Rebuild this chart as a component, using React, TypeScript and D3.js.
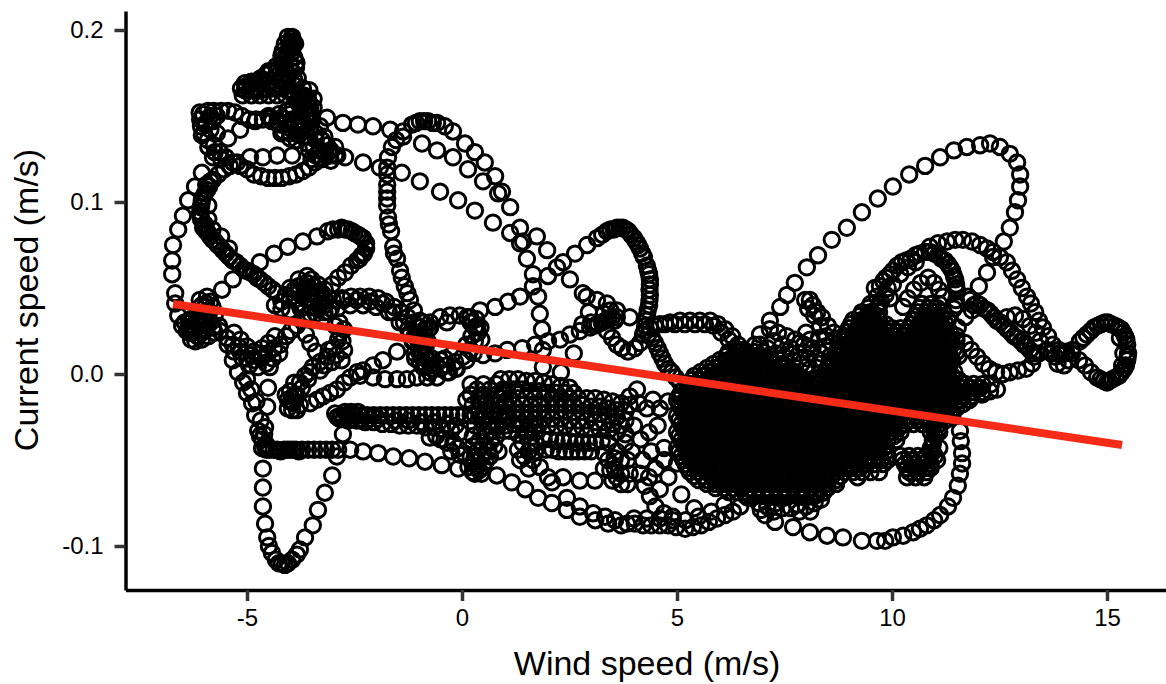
import React, { useEffect, useRef } from "react";
import * as d3 from "d3";

type Pt = [number, number];

// Tick values
const xTicks = [-5, 0, 5, 10, 15];
const yTicks = [-0.1, 0, 0.1, 0.2];

// Fitted line, ends
const fitLine: Pt[] = [[-6.72, 0.0407], [15.35, -0.0413]];

// [wind, current], track by track
const topTriangle: Pt[] = [
  [-3.95, 0.195], [-3.98, 0.193], [-4.0, 0.191], [-4.03, 0.189], [-4.06, 0.187], [-4.1, 0.185], [-3.92, 0.193], [-3.95, 0.19],
  [-4.05, 0.196], [-3.95, 0.196], [-3.88, 0.192], [-4.12, 0.192], [-3.95, 0.187], [-4.17, 0.188], [-4.2, 0.185], [-4.12, 0.183],
  [-4.2, 0.182], [-4.32, 0.179], [-4.44, 0.176], [-4.56, 0.174], [-4.68, 0.172], [-4.8, 0.17], [-4.92, 0.168], [-5.04, 0.167], [-5.14, 0.166],
  [-5.05, 0.165], [-4.92, 0.165], [-4.8, 0.165], [-4.68, 0.165], [-4.55, 0.166], [-4.42, 0.166], [-4.3, 0.166], [-4.18, 0.166], [-4.05, 0.165], [-3.92, 0.164], [-3.8, 0.163], [-3.68, 0.162], [-3.58, 0.16],
  [-3.9, 0.184], [-3.86, 0.178], [-3.82, 0.172], [-3.9, 0.171], [-4.05, 0.172], [-4.2, 0.172], [-4.35, 0.173], [-3.7, 0.158], [-3.55, 0.155], [-3.62, 0.15], [-3.72, 0.146], [-3.85, 0.142], [-4.0, 0.14], [-4.15, 0.141],
  [-5.05, 0.169], [-4.9, 0.17], [-4.7, 0.169], [-4.5, 0.169], [-4.3, 0.169], [-4.1, 0.169], [-3.9, 0.168], [-3.7, 0.166],
  [-5.1, 0.162], [-4.9, 0.162], [-4.7, 0.162], [-4.5, 0.162], [-4.3, 0.162], [-4.1, 0.162], [-3.9, 0.161], [-3.7, 0.16],
  [-4.5, 0.176], [-4.3, 0.176], [-4.1, 0.177], [-3.95, 0.176], [-4.2, 0.18], [-4.0, 0.18], [-3.85, 0.181],
  [-3.55, 0.165], [-3.45, 0.16], [-3.45, 0.155], [-3.5, 0.15], [-3.55, 0.146], [-3.65, 0.155], [-3.75, 0.152],
];
const upperLeftLoop: Pt[] = [
  [-3.3, 0.126], [-3.42, 0.123], [-3.56, 0.12], [-3.7, 0.118], [-3.86, 0.116], [-4.02, 0.115], [-4.19, 0.114], [-4.35, 0.114], [-4.51, 0.114], [-4.67, 0.115], [-4.84, 0.116], [-5.0, 0.119], [-5.16, 0.121], [-5.33, 0.123], [-5.49, 0.126], [-5.63, 0.129], [-5.77, 0.133], [-5.91, 0.136], [-6.0, 0.14], [-6.07, 0.144], [-6.09, 0.148], [-6.02, 0.151], [-5.91, 0.153], [-5.77, 0.153], [-5.6, 0.153], [-5.44, 0.153], [-5.28, 0.152], [-5.12, 0.15], [-4.95, 0.148], [-4.79, 0.148], [-4.63, 0.148], [-4.44, 0.149], [-4.26, 0.151], [-4.07, 0.153], [-3.93, 0.155], [-3.77, 0.156],
  [-3.58, 0.159], [-3.53, 0.155], [-3.6, 0.151], [-3.7, 0.147], [-3.53, 0.143], [-3.4, 0.14], [-3.26, 0.136], [-3.14, 0.133], [-3.05, 0.13], [-2.95, 0.127], [-3.07, 0.127], [-3.19, 0.129], [-3.77, 0.142], [-4.0, 0.143], [-4.23, 0.145], [-4.42, 0.147], [-4.19, 0.149], [-3.95, 0.148], [-3.6, 0.138], [-3.45, 0.132], [-3.3, 0.13], [-3.55, 0.13], [-3.85, 0.136], [-5.85, 0.142], [-5.7, 0.14], [-5.95, 0.146], [-5.8, 0.147],
  [-4.5, 0.15], [-4.3, 0.146], [-4.1, 0.146], [-3.9, 0.145], [-3.7, 0.143], [-3.5, 0.147], [-3.3, 0.144], [-4.2, 0.14], [-4.0, 0.137], [-3.8, 0.139], [-3.6, 0.134], [-3.4, 0.136], [-3.2, 0.138], [-3.1, 0.129], [-2.95, 0.132], [-3.25, 0.125], [-3.4, 0.127], [-3.05, 0.124], [-2.9, 0.127], [-3.5, 0.125],
  [-6.05, 0.139], [-5.98, 0.145], [-5.85, 0.15], [-5.7, 0.15], [-6.1, 0.152], [-5.9, 0.132], [-5.75, 0.129], [-5.6, 0.125],
];
const outerArc: Pt[] = [
  [-6.67, 0.047], [-6.74, 0.058], [-6.74, 0.066], [-6.72, 0.075], [-6.6, 0.084], [-6.49, 0.092], [-6.37, 0.101], [-6.21, 0.109], [-6.05, 0.117], [-5.79, 0.126], [-5.44, 0.137], [-5.16, 0.142], [-4.81, 0.147], [-4.47, 0.149], [-4.0, 0.151], [-3.53, 0.151], [-3.14, 0.149], [-2.77, 0.146], [-2.42, 0.145], [-2.07, 0.144], [-1.67, 0.142], [-1.37, 0.138], [-0.93, 0.134], [-0.58, 0.13], [-0.21, 0.126], [0.14, 0.119], [0.49, 0.112], [0.84, 0.105], [1.12, 0.097], [1.35, 0.085], [1.42, 0.077], [1.51, 0.067], [1.65, 0.058], [1.77, 0.045], [1.81, 0.035], [1.86, 0.026], [1.88, 0.014], [1.88, 0.004],
];
const secondArc: Pt[] = [
  [-3.95, 0.127], [-4.3, 0.127], [-4.63, 0.126], [-4.93, 0.126], [-2.72, 0.126], [-2.3, 0.123], [-1.91, 0.12], [-1.4, 0.117], [-0.98, 0.112], [-0.51, 0.106], [-0.09, 0.101], [0.3, 0.095], [0.72, 0.088], [1.12, 0.082], [1.35, 0.076], [1.74, 0.08], [1.98, 0.072], [2.21, 0.062], [2.51, 0.055], [2.81, 0.047], [3.14, 0.043], [3.37, 0.041], [3.6, 0.037], [3.9, 0.033],
];
const centreArch: Pt[] = [
  [0.93, 0.106], [0.77, 0.115], [0.53, 0.123], [0.3, 0.129], [0.07, 0.134], [-0.21, 0.141], [-0.4, 0.144], [-0.58, 0.146], [-0.79, 0.147], [-0.98, 0.147], [-1.16, 0.145], [-1.37, 0.141], [-1.53, 0.136], [-1.63, 0.132], [-1.72, 0.126], [-1.74, 0.12], [-1.74, 0.116], [-1.74, 0.106], [-1.74, 0.098], [-1.72, 0.091], [-1.65, 0.083], [-1.6, 0.074], [-1.51, 0.067], [-1.44, 0.06], [-1.33, 0.051], [-1.21, 0.043], [-1.12, 0.037], [-0.98, 0.031],
  [-0.68, 0.146], [-0.88, 0.147], [-1.07, 0.146], [-1.74, 0.11], [-1.74, 0.102], [-1.7, 0.087], [-1.58, 0.07], [-1.4, 0.056], [-1.27, 0.047],
];
const thickDiagonal: Pt[] = [
  [-5.23, 0.123], [-5.4, 0.121], [-5.53, 0.119], [-5.67, 0.116], [-5.79, 0.113], [-5.88, 0.109], [-5.98, 0.105], [-6.05, 0.101], [-6.07, 0.097], [-6.09, 0.094], [-6.07, 0.09], [-6.02, 0.085], [-5.95, 0.083], [-5.86, 0.08], [-5.74, 0.077], [-5.63, 0.074], [-5.49, 0.07], [-5.33, 0.066], [-5.16, 0.063], [-5.0, 0.06], [-4.84, 0.058], [-4.7, 0.055], [-4.51, 0.051], [-4.3, 0.047],
  [-5.95, 0.11], [-5.9, 0.098], [-5.9, 0.09], [-5.8, 0.084], [-5.6, 0.08], [-5.42, 0.073],
  [-5.85, 0.112], [-5.93, 0.107], [-6.02, 0.103], [-6.06, 0.099], [-6.08, 0.092], [-5.98, 0.087], [-5.9, 0.082], [-5.8, 0.078], [-5.68, 0.075], [-5.56, 0.072], [-5.41, 0.068], [-5.25, 0.065], [-5.08, 0.061], [-4.92, 0.059], [-4.77, 0.056], [-4.6, 0.053], [-4.4, 0.049],
];
const midHook: Pt[] = [
  [-5.58, 0.049], [-5.33, 0.055], [-5.02, 0.06], [-4.7, 0.065], [-4.37, 0.07], [-4.05, 0.074], [-3.7, 0.077], [-3.37, 0.08], [-3.12, 0.083], [-2.88, 0.084], [-2.72, 0.084], [-2.56, 0.083], [-2.42, 0.081], [-2.3, 0.079], [-2.23, 0.076], [-2.23, 0.073], [-2.33, 0.069], [-2.44, 0.066], [-2.58, 0.063], [-2.72, 0.059], [-2.88, 0.056], [-3.02, 0.052], [-3.19, 0.049], [-3.35, 0.046],
  [-3.0, 0.084], [-2.8, 0.085], [-2.65, 0.084], [-2.5, 0.082], [-2.36, 0.08], [-2.28, 0.07], [-2.38, 0.067],
  [-4.1, 0.046], [-3.9, 0.049], [-3.7, 0.052], [-3.5, 0.055], [-3.35, 0.052], [-3.5, 0.047], [-3.7, 0.045], [-3.9, 0.043], [-3.6, 0.057], [-3.8, 0.055], [-3.2, 0.044], [-3.05, 0.038], [-3.3, 0.04], [-3.5, 0.039], [-3.75, 0.038], [-4.0, 0.037], [-4.2, 0.038],
  [-4.0, 0.05], [-3.8, 0.051], [-3.6, 0.053], [-3.45, 0.051], [-3.6, 0.049], [-3.8, 0.047], [-4.0, 0.044], [-3.6, 0.043], [-3.4, 0.045], [-3.25, 0.047], [-3.8, 0.041], [-4.2, 0.042], [-4.35, 0.04], [-3.4, 0.035], [-3.6, 0.034], [-3.2, 0.036],
];
const leftKnot: Pt[] = [
  [-5.93, 0.045], [-5.98, 0.039], [-6.02, 0.034], [-6.09, 0.03], [-6.21, 0.026], [-6.33, 0.024], [-6.35, 0.027], [-6.25, 0.024], [-6.15, 0.022], [-6.05, 0.024], [-5.95, 0.026], [-6.1, 0.028], [-6.2, 0.03], [-6.35, 0.031], [-6.45, 0.03], [-6.67, 0.041], [-6.6, 0.034], [-6.51, 0.028], [-5.85, 0.042], [-5.88, 0.036], [-6.05, 0.04],
  [-6.1, 0.043], [-5.95, 0.041], [-5.8, 0.039], [-5.75, 0.034], [-5.85, 0.03], [-5.95, 0.032], [-6.15, 0.036], [-6.3, 0.02], [-6.2, 0.019], [-6.05, 0.02], [-5.9, 0.022], [-5.75, 0.024], [-6.4, 0.025], [-6.3, 0.032], [-5.65, 0.028],
  [-5.79, 0.027], [-5.63, 0.025], [-5.47, 0.021], [-5.33, 0.017], [-5.16, 0.013], [-5.0, 0.009], [-4.84, 0.008], [-4.67, 0.009], [-4.51, 0.012], [-4.37, 0.015], [-4.23, 0.017], [-4.09, 0.022], [-3.98, 0.025], [-3.84, 0.028], [-3.7, 0.032], [-3.53, 0.035], [-3.37, 0.038], [-3.19, 0.04], [-3.0, 0.043], [-2.79, 0.044], [-2.58, 0.045], [-2.37, 0.045], [-2.16, 0.045], [-1.95, 0.044], [-1.77, 0.042], [-1.58, 0.039], [-1.42, 0.036], [-1.26, 0.033], [-1.12, 0.03], [-0.98, 0.027], [-0.88, 0.023], [-0.86, 0.02],
  [-5.3, 0.024], [-5.15, 0.02], [-5.0, 0.016], [-4.85, 0.013], [-4.65, 0.015], [-4.5, 0.018], [-4.35, 0.022], [-2.9, 0.038], [-2.6, 0.04], [-2.3, 0.04], [-2.0, 0.039], [-1.7, 0.036], [-1.45, 0.03], [-1.2, 0.024], [-1.0, 0.018],
  [-5.45, 0.017], [-5.3, 0.013], [-5.1, 0.009], [-4.95, 0.005], [-4.75, 0.004], [-4.55, 0.006], [-4.4, 0.009], [-4.7, 0.012], [-4.9, 0.011], [-5.2, 0.016], [-4.25, 0.012],
  [-1.35, 0.03], [-1.25, 0.026], [-1.1, 0.022], [-0.95, 0.022], [-0.8, 0.019], [-0.85, 0.015], [-1.0, 0.013], [-1.15, 0.019], [-0.9, 0.03], [-0.78, 0.026],
  [-3.1, 0.036], [-2.75, 0.043], [-2.45, 0.043], [-2.15, 0.042], [-1.85, 0.041], [-1.6, 0.036],
];
const leftDrop: Pt[] = [
  [-5.33, 0.008], [-5.21, 0.001], [-5.09, -0.005], [-5.0, -0.011], [-4.88, -0.017], [-4.81, -0.024], [-4.74, -0.033], [-4.65, -0.038], [-4.58, -0.042], [-4.47, -0.044], [-4.3, -0.044], [-4.14, -0.044], [-4.0, -0.044], [-3.86, -0.044], [-3.72, -0.044], [-3.58, -0.044], [-3.44, -0.044], [-3.3, -0.044], [-3.16, -0.044], [-3.02, -0.044], [-2.88, -0.044],
  [-5.0, -0.003], [-4.9, -0.009], [-4.78, -0.016], [-4.68, -0.027], [-4.6, -0.035], [-4.55, -0.044], [-4.38, -0.044], [-4.22, -0.045], [-4.07, -0.044], [-3.93, -0.044], [-3.79, -0.045], [-4.65, -0.043], [-4.55, -0.041], [-4.7, -0.036],
  [-2.6, -0.044], [-2.3, -0.045], [-1.95, -0.046], [-1.6, -0.048], [-1.23, -0.049], [-0.86, -0.051], [-0.47, -0.053], [-0.09, -0.055], [0.26, -0.057], [0.81, -0.059], [1.16, -0.063], [1.47, -0.067], [1.77, -0.072], [2.09, -0.075], [2.44, -0.079], [2.74, -0.083],
];
const bottomLoop: Pt[] = [
  [-4.63, -0.055], [-4.63, -0.066], [-4.63, -0.077], [-4.58, -0.087], [-4.53, -0.095], [-4.49, -0.1], [-4.42, -0.104], [-4.33, -0.108], [-4.19, -0.11], [-4.05, -0.11], [-3.95, -0.108], [-3.84, -0.105], [-3.77, -0.102], [-3.65, -0.095], [-3.47, -0.088], [-3.35, -0.079], [-3.19, -0.069], [-3.02, -0.059], [-2.91, -0.048], [-2.77, -0.035],
  [-4.47, 0.004], [-4.51, -0.008], [-4.53, -0.019], [-4.58, -0.031], [-4.26, -0.11], [-4.12, -0.111],
];
const innerHook: Pt[] = [
  [-4.05, -0.015], [-3.93, -0.017], [-3.84, -0.012], [-3.77, -0.005], [-3.65, -0.001], [-3.47, 0.004], [-3.3, 0.007], [-3.14, 0.01], [-3.0, 0.015], [-2.88, 0.02], [-2.84, 0.024], [-2.95, 0.028], [-3.63, 0.023], [-3.53, 0.018], [-3.4, 0.013], [-3.84, -0.021], [-3.58, -0.003], [-3.3, 0.002], [-3.02, 0.007], [-2.74, 0.014], [-3.95, -0.021], [-4.0, -0.01], [-3.9, -0.005],
  [-4.05, -0.02], [-4.1, -0.012], [-3.98, -0.016], [-3.9, -0.012], [-3.72, -0.008], [-3.55, 0.001], [-3.2, 0.005], [-2.92, 0.011], [-2.78, 0.019], [-2.75, 0.026], [-2.85, 0.03], [-3.1, 0.014], [-2.8, 0.008],
];
const longRise: Pt[] = [
  [-3.77, -0.018], [-3.53, -0.017], [-3.37, -0.015], [-3.23, -0.013], [-3.07, -0.011], [-2.91, -0.009], [-2.74, -0.005], [-2.6, -0.002], [-2.44, 0.001], [-2.3, 0.002], [-2.07, 0.005], [-1.84, 0.008], [-1.51, 0.013], [-1.14, 0.02], [-0.74, 0.027], [-0.35, 0.03], [0.12, 0.033], [0.42, 0.037], [0.77, 0.039], [1.07, 0.042], [1.35, 0.045], [1.65, 0.051], [2.0, 0.057], [2.35, 0.065], [2.63, 0.07], [2.91, 0.075], [3.14, 0.079], [3.37, 0.083], [3.53, 0.084], [3.67, 0.085], [3.81, 0.084], [3.93, 0.081], [4.05, 0.077], [4.14, 0.073], [4.23, 0.068], [4.3, 0.063], [4.35, 0.058], [4.37, 0.052], [4.37, 0.046], [4.35, 0.04], [4.3, 0.034], [4.26, 0.028], [4.21, 0.023], [4.14, 0.018], [4.02, 0.015], [3.86, 0.013], [3.72, 0.015], [3.6, 0.017], [3.49, 0.021], [3.37, 0.025],
  [3.26, 0.081], [3.45, 0.084], [3.6, 0.085], [3.74, 0.085], [3.87, 0.083], [4.0, 0.079], [4.1, 0.075], [4.19, 0.07], [4.33, 0.06], [4.37, 0.055], [4.36, 0.049], [4.36, 0.043], [4.32, 0.037], [4.28, 0.031], [4.24, 0.025],
];
const shortFall: Pt[] = [
  [3.6, 0.033], [3.49, 0.033], [3.33, 0.031], [3.16, 0.029], [2.98, 0.027], [2.74, 0.025], [2.51, 0.023], [2.28, 0.02], [2.0, 0.019], [1.7, 0.017], [1.4, 0.015], [1.05, 0.014], [0.77, 0.012], [0.49, 0.011],
  [3.0, 0.03], [2.8, 0.029], [3.3, 0.035], [3.45, 0.037], [2.9, 0.045], [2.95, 0.036], [2.6, 0.012], [2.3, 0.001],
  [3.55, 0.031], [3.4, 0.032], [3.25, 0.03], [3.08, 0.028],
];
const hollowRow: Pt[] = [
  [-2.37, -0.001], [-2.07, -0.002], [-1.79, -0.003], [-1.51, -0.003], [-1.28, -0.003], [-1.05, -0.002], [-0.81, -0.002], [-0.58, -0.002], [-0.35, 0.001], [-0.12, 0.003],
  [-1.09, 0.009], [-0.98, 0.007], [-0.84, 0.005], [-0.7, 0.003], [-0.51, 0.003], [-0.35, 0.005], [-0.16, 0.007], [0.02, 0.01], [0.19, 0.014], [0.3, 0.019], [0.37, 0.024], [0.35, 0.028], [0.19, 0.033], [-0.05, 0.034], [-0.28, 0.034], [-0.51, 0.033], [-0.74, 0.03], [-0.86, 0.026],
  [-1.0, 0.013], [-0.85, 0.011], [-0.7, 0.009], [-0.5, 0.008], [-1.1, 0.012], [-0.95, 0.01], [-0.8, 0.008], [-0.6, 0.006], [-0.4, 0.009], [-0.2, 0.012], [-0.9, 0.004], [-0.75, 0.001], [-0.3, 0.001], [-0.15, 0.003],
  [0.1, 0.017], [0.22, 0.022], [0.3, 0.027], [0.2, 0.03], [0.27, 0.012], [0.1, 0.008], [0.45, 0.02], [0.43, 0.027], [0.33, 0.032],
];
const blackBand: Pt[] = [
  [-2.95, -0.023], [-2.8, -0.024], [-2.65, -0.024], [-2.5, -0.024], [-2.35, -0.024], [-2.2, -0.024], [-2.05, -0.024], [-1.9, -0.024], [-1.75, -0.024], [-1.6, -0.024], [-1.45, -0.024], [-1.3, -0.024], [-1.15, -0.024], [-1.0, -0.024], [-0.85, -0.024], [-0.7, -0.024], [-0.55, -0.024], [-0.4, -0.024], [-0.25, -0.024], [-0.1, -0.024], [0.05, -0.024], [0.2, -0.024],
  [-2.85, -0.026], [-2.65, -0.027], [-2.45, -0.027], [-2.25, -0.028], [-2.05, -0.028], [-1.85, -0.029], [-1.65, -0.029], [-1.45, -0.03], [-1.25, -0.03], [-1.05, -0.03], [-0.85, -0.031], [-0.65, -0.031], [-0.45, -0.032], [-0.25, -0.033], [-0.05, -0.034],
  [-0.6, -0.036], [-0.35, -0.04], [-0.1, -0.043], [0.05, -0.046],
  [-2.9, -0.025], [-2.72, -0.022], [-2.58, -0.022], [-2.42, -0.022], [-2.75, -0.026], [-2.55, -0.026], [-2.35, -0.027], [-2.15, -0.026], [-1.95, -0.026], [-1.55, -0.027], [-1.25, -0.027], [-0.95, -0.028], [-0.65, -0.028], [-0.35, -0.029], [-0.15, -0.03],
  [-0.75, -0.037], [-0.5, -0.038], [-0.2, -0.04], [-0.25, -0.045], [-0.05, -0.047],
];
const blackWedge: Pt[] = [
  [0.2, -0.006], [0.5, -0.006], [0.8, -0.006], [0.2, -0.012], [0.5, -0.012], [0.8, -0.012], [1.0, -0.012], [0.25, -0.018], [0.55, -0.018], [0.85, -0.018], [0.3, -0.024], [0.55, -0.024], [0.85, -0.024], [1.05, -0.024], [0.3, -0.03], [0.6, -0.03], [0.85, -0.03], [0.25, -0.036], [0.55, -0.036], [0.8, -0.036], [0.25, -0.042], [0.5, -0.042], [0.75, -0.042], [0.2, -0.048], [0.45, -0.048], [0.65, -0.048], [0.15, -0.054], [0.35, -0.054], [0.5, -0.054], [0.3, -0.058], [0.4, -0.056],
  [0.35, -0.009], [0.65, -0.009], [0.95, -0.009], [0.1, -0.015], [0.4, -0.015], [0.7, -0.015], [1.0, -0.016], [0.4, -0.021], [0.7, -0.021], [0.45, -0.027], [0.72, -0.027], [0.98, -0.027], [0.45, -0.033], [0.72, -0.033], [0.98, -0.033], [0.4, -0.039], [0.68, -0.039], [0.35, -0.045], [0.62, -0.045], [0.85, -0.045], [0.3, -0.051], [0.55, -0.051], [0.25, -0.057], [0.45, -0.058],
];
const midRibbons: Pt[] = [
  [0.9, -0.003], [1.1, -0.003], [1.3, -0.003], [1.5, -0.004], [1.7, -0.004], [1.9, -0.005], [2.1, -0.006], [2.3, -0.007], [2.5, -0.008],
  [0.9, -0.014], [1.1, -0.014], [1.3, -0.014], [1.5, -0.014], [1.7, -0.014], [1.9, -0.014], [2.1, -0.014], [2.3, -0.014], [2.5, -0.014], [2.7, -0.014], [2.9, -0.014], [3.1, -0.014], [3.3, -0.015], [3.5, -0.016], [3.7, -0.017], [3.9, -0.018],
  [1.0, -0.022], [1.2, -0.022], [1.4, -0.022], [1.6, -0.022], [1.8, -0.022], [2.0, -0.022], [2.2, -0.022], [2.4, -0.022], [2.6, -0.022], [2.8, -0.022], [3.0, -0.023], [3.2, -0.023], [3.4, -0.024], [3.6, -0.025], [3.8, -0.027], [4.0, -0.03],
  [1.2, -0.029], [1.4, -0.029], [1.6, -0.029], [1.8, -0.029], [2.0, -0.03], [2.2, -0.03], [2.4, -0.03], [2.6, -0.031], [2.8, -0.031], [3.0, -0.032], [3.2, -0.032], [3.4, -0.033], [3.6, -0.034], [3.8, -0.035],
  [1.9, -0.038], [2.05, -0.038], [2.2, -0.039], [2.35, -0.039], [2.5, -0.039], [2.65, -0.04], [2.8, -0.04], [2.95, -0.04], [3.1, -0.04], [3.25, -0.039],
  [1.95, -0.044], [2.1, -0.044], [2.25, -0.045], [2.4, -0.045], [2.55, -0.045], [2.7, -0.045], [2.85, -0.045], [3.0, -0.045],
  [1.0, -0.018], [1.2, -0.018], [1.4, -0.018], [1.6, -0.018], [1.8, -0.018], [2.0, -0.018], [2.2, -0.018], [2.4, -0.018], [2.6, -0.018], [2.8, -0.018], [3.0, -0.019], [3.2, -0.019], [3.4, -0.02], [3.6, -0.021], [3.8, -0.022],
  [1.1, -0.026], [1.3, -0.026], [1.5, -0.026], [1.7, -0.026], [1.9, -0.026], [2.1, -0.026], [2.3, -0.026], [2.5, -0.027], [2.7, -0.027], [2.9, -0.027], [3.1, -0.028], [3.3, -0.028], [3.5, -0.029], [3.7, -0.03],
  [1.0, -0.01], [1.2, -0.009], [1.4, -0.009], [1.6, -0.01], [1.8, -0.01], [2.0, -0.011], [2.2, -0.011], [2.4, -0.011], [2.6, -0.011],
  [1.0, -0.03], [1.1, -0.033], [1.3, -0.035], [1.5, -0.033], [1.7, -0.034],
  [1.5, -0.035], [1.6, -0.04], [1.7, -0.045], [1.65, -0.05], [1.55, -0.055], [1.7, -0.03], [1.4, -0.04], [1.45, -0.048], [1.3, -0.044], [1.35, -0.05], [1.55, -0.045], [1.72, -0.04],
  [3.4, -0.05], [3.55, -0.055], [3.7, -0.058], [3.85, -0.05], [3.6, -0.045], [3.8, -0.04], [3.5, -0.062], [3.7, -0.064], [3.9, -0.058], [3.4, -0.04], [3.3, -0.046], [3.45, -0.056], [3.55, -0.049], [3.7, -0.05], [3.6, -0.06], [3.85, -0.064], [3.95, -0.045], [3.3, -0.055],
];
const lowerArcs: Pt[] = [
  [4.14, -0.058], [4.25, -0.065], [4.37, -0.071], [4.5, -0.077], [4.7, -0.081], [4.9, -0.083],
  [4.2, -0.05], [4.4, -0.045], [4.7, -0.043], [4.3, -0.02], [4.6, -0.02], [4.1, -0.017], [3.9, -0.013], [4.44, -0.015], [4.79, -0.016], [4.07, -0.009], [4.55, -0.03], [4.35, -0.034], [4.15, -0.038],
  [1.81, -0.054], [2.09, -0.063], [2.44, -0.072], [2.74, -0.077], [3.05, -0.081], [3.33, -0.083], [3.56, -0.085], [3.84, -0.087], [4.02, -0.087], [4.21, -0.088], [4.4, -0.088], [4.6, -0.088], [4.79, -0.088], [4.98, -0.089], [5.19, -0.09], [5.37, -0.089], [5.56, -0.088], [5.74, -0.086], [5.93, -0.084], [6.12, -0.082], [6.3, -0.08], [6.47, -0.077],
  [3.1, -0.085], [3.4, -0.087], [3.7, -0.088], [4.0, -0.084], [4.3, -0.084], [4.6, -0.084], [4.9, -0.085], [5.2, -0.085], [5.5, -0.083], [5.8, -0.08], [6.1, -0.076],
  [2.0, -0.06], [2.35, -0.06], [2.74, -0.062], [3.09, -0.062],
  [4.5, -0.055], [4.8, -0.06], [5.1, -0.07], [5.4, -0.078], [4.7, -0.05], [5.0, -0.052], [4.35, -0.06], [4.6, -0.067],
];
// Ring on top of the central cloud
const centreRing: Pt[] = [
  [4.33, 0.023], [4.37, 0.027], [4.6, 0.029], [4.84, 0.03], [5.07, 0.031], [5.3, 0.031], [5.53, 0.031], [5.77, 0.031], [5.95, 0.029], [6.12, 0.026], [6.28, 0.022], [6.42, 0.017], [6.55, 0.014],
  [4.48, 0.028], [4.72, 0.029], [4.95, 0.029], [5.18, 0.029], [5.42, 0.029], [5.65, 0.029], [5.85, 0.028], [6.03, 0.024], [6.2, 0.02], [6.35, 0.015],
  [4.49, 0.018], [4.6, 0.012], [4.72, 0.006], [4.88, 0.001], [5.07, -0.005], [4.42, 0.021], [4.55, 0.015], [4.66, 0.009], [4.8, 0.003], [4.97, -0.002],
];
const bigRightArc: Pt[] = [
  [6.81, 0.017], [6.93, 0.023], [7.16, 0.031], [7.4, 0.039], [7.56, 0.046], [7.74, 0.053], [8.02, 0.062], [8.28, 0.069], [8.6, 0.078], [8.95, 0.085], [9.3, 0.094], [9.67, 0.102], [10.02, 0.109], [10.4, 0.116], [10.77, 0.121], [11.12, 0.126], [11.44, 0.13], [11.74, 0.132], [12.05, 0.133], [12.28, 0.134], [12.51, 0.132], [12.74, 0.128], [12.91, 0.123], [12.98, 0.116], [12.98, 0.109], [12.93, 0.101], [12.86, 0.094], [12.74, 0.085], [12.6, 0.077], [12.35, 0.068], [12.21, 0.059], [12.02, 0.051], [11.77, 0.045],
];
const rightArch: Pt[] = [
  [10.88, 0.074], [11.07, 0.076], [11.28, 0.077], [11.47, 0.078], [11.65, 0.078], [11.86, 0.077], [12.05, 0.075], [12.21, 0.073], [12.35, 0.071], [12.51, 0.068], [12.67, 0.065], [12.79, 0.06], [12.91, 0.055], [13.02, 0.05], [13.14, 0.045], [13.23, 0.041], [13.33, 0.036], [13.42, 0.031], [13.51, 0.027], [13.63, 0.022], [13.74, 0.017], [13.88, 0.014], [14.02, 0.012], [14.19, 0.014], [14.37, 0.019], [14.53, 0.023], [14.7, 0.027], [14.86, 0.029], [15.02, 0.03], [15.19, 0.028], [15.33, 0.026], [15.42, 0.022], [15.47, 0.017], [15.49, 0.012], [15.47, 0.008], [15.4, 0.003], [15.28, -0.001], [15.12, -0.003], [14.93, -0.004], [14.77, -0.002], [14.63, 0.001], [14.49, 0.005], [14.35, 0.008], [14.19, 0.012], [14.05, 0.013], [13.91, 0.011],
  [15.1, 0.029], [14.95, 0.03], [15.3, 0.021], [15.38, 0.012], [15.35, 0.005], [15.2, -0.002], [15.0, -0.005], [13.8, 0.01], [13.7, 0.012],
  [14.78, 0.028], [14.62, 0.025], [14.45, 0.021], [15.26, 0.027], [15.38, 0.024], [15.45, 0.02], [15.48, 0.01], [15.44, 0.005], [15.34, 0.001], [15.05, -0.004], [14.85, -0.003], [13.95, 0.013], [14.1, 0.008], [13.6, 0.014], [13.85, 0.006], [14.0, 0.005],
];
const innerArches: Pt[] = [
  [9.72, 0.051], [9.86, 0.056], [10.02, 0.06], [10.23, 0.065], [10.44, 0.067], [10.65, 0.07], [10.88, 0.071], [11.07, 0.069], [11.23, 0.066], [11.35, 0.062], [11.44, 0.057], [11.49, 0.052], [11.51, 0.048], [11.49, 0.043], [11.44, 0.038],
  [10.02, 0.052], [10.19, 0.058], [10.37, 0.062], [10.55, 0.065], [9.85, 0.046], [9.65, 0.045], [9.9, 0.05],
  [10.26, 0.039], [10.37, 0.044], [10.51, 0.049], [10.67, 0.053], [10.84, 0.056], [10.98, 0.053], [11.09, 0.049], [11.19, 0.045],
  [9.8, 0.054], [9.95, 0.058], [10.12, 0.063], [10.33, 0.066], [10.55, 0.069], [10.77, 0.071], [10.98, 0.07], [11.15, 0.067], [11.3, 0.064], [11.4, 0.06], [11.47, 0.055], [11.5, 0.05], [11.5, 0.04], [9.6, 0.05], [9.75, 0.042], [9.95, 0.044],
];
const diamond: Pt[] = [
  [11.98, 0.041], [11.81, 0.043], [12.14, 0.038], [12.3, 0.035], [12.44, 0.031], [12.6, 0.028], [12.77, 0.024], [12.91, 0.021], [13.07, 0.017], [13.21, 0.014], [13.3, 0.01], [13.26, 0.006], [13.12, 0.003], [12.93, 0.002], [12.74, 0.001], [12.58, 0], [12.42, 0.001], [12.26, 0.003], [12.12, 0.006], [11.98, 0.01], [11.84, 0.014], [11.7, 0.018],
  [11.86, 0.037], [11.7, 0.033], [11.53, 0.027], [12.67, 0.033], [12.86, 0.034], [13.05, 0.032], [13.21, 0.028], [13.35, 0.024], [13.44, 0.019], [13.42, 0.012],
  [12.44, -0.009], [12.28, -0.01], [12.09, -0.012], [12.3, -0.006], [12.1, -0.006],
  [11.9, 0.04], [12.05, 0.04], [12.22, 0.037], [12.37, 0.033], [12.52, 0.03], [12.68, 0.026], [12.84, 0.022], [13.0, 0.019], [13.14, 0.016], [13.28, 0.012],
];
const lowerRightArc: Pt[] = [
  [11.58, -0.033], [11.6, -0.039], [11.63, -0.046], [11.63, -0.052], [11.58, -0.058], [11.53, -0.065], [11.42, -0.072], [11.3, -0.077], [11.12, -0.082], [10.98, -0.085], [10.81, -0.088], [10.65, -0.09], [10.49, -0.092], [10.26, -0.094], [10.02, -0.095], [9.84, -0.097], [9.65, -0.097], [9.3, -0.097], [8.86, -0.095], [8.49, -0.094], [8.09, -0.092], [7.7, -0.089], [7.28, -0.086],
];
const fingerAndRibs: Pt[] = [
  [8.09, 0.043], [8.16, 0.04], [8.26, 0.036], [8.37, 0.033], [8.51, 0.028], [8.65, 0.024], [8.79, 0.021], [8.93, 0.017], [7.98, 0.043], [8.05, 0.038], [8.19, 0.034], [8.33, 0.028],
  [6.93, 0.017], [7.1, 0.015], [7.3, 0.012], [7.5, 0.01], [7.7, 0.008], [7.9, 0.006], [8.1, 0.003], [8.3, 0], [8.5, -0.002],
  [7.16, 0.026], [7.35, 0.024], [7.55, 0.022], [7.75, 0.02], [7.95, 0.017], [8.15, 0.015], [8.35, 0.012], [8.55, 0.01],
  [7.5, 0.005], [7.65, 0.012], [7.85, 0.018], [8.0, 0.024], [8.1, 0.012], [8.3, 0.006], [7.9, -0.002], [7.7, 0.001], [8.55, 0.004],
  [7.25, 0.019], [7.45, 0.017], [7.65, 0.015], [7.85, 0.012], [8.05, 0.009], [8.25, 0.009], [8.45, 0.016], [8.6, 0.018], [8.75, 0.015], [8.65, 0.006], [8.1, 0.02], [8.3, 0.021], [8.48, 0.022], [7.5, -0.001], [8.15, -0.003], [8.35, -0.004],
];
const lowerBlobs: Pt[] = [
  [6.9, -0.075], [7.1, -0.077], [7.3, -0.075], [7.5, -0.072], [6.8, -0.07], [7.0, -0.07], [7.8, -0.076], [8.0, -0.077], [8.2, -0.075], [8.35, -0.073], [8.25, -0.07], [7.9, -0.07], [7.65, -0.078], [7.2, -0.07], [7.45, -0.078],
  [8.4, -0.069], [6.95, -0.079], [7.25, -0.08], [8.1, -0.08], [7.85, -0.08], [6.65, -0.072], [7.05, -0.082],
  [9.3, -0.057], [9.5, -0.057], [9.7, -0.057], [9.4, -0.052], [9.2, -0.06], [10.35, -0.06], [10.55, -0.06], [10.75, -0.06],
];

// Dense middle of the cloud: one row per current reading, with the winds on it
const coreRows: [number, number[]][] = [
  [0.0407, [9.5, 9.7, 10.7, 10.9, 11.1]],
  [0.036, [9.3, 9.5, 9.7, 10.6, 10.8, 11, 11.2]],
  [0.0314, [9.1, 9.3, 9.5, 9.7, 10.5, 10.7, 10.9, 11.1, 11.3]],
  [0.0267, [9, 9.2, 9.4, 9.6, 9.8, 10, 10.2, 10.4, 10.6, 10.8, 11, 11.2]],
  [0.0221, [8.9, 9.1, 9.3, 9.5, 9.7, 9.9, 10.1, 10.3, 10.5, 10.7, 10.9, 11.1, 11.3, 11.5]],
  [0.0174, [9, 9.2, 9.4, 9.6, 9.8, 10, 10.2, 10.4, 10.6, 10.8, 11, 11.2, 11.4]],
  [0.0128, [6.2, 6.4, 6.6, 6.8, 7, 8.7, 8.9, 9.1, 9.3, 9.5, 9.7, 9.9, 10.1, 10.3, 10.5, 10.7, 10.9, 11.1, 11.3, 11.5]],
  [0.0081, [6, 6.2, 6.4, 6.6, 6.8, 7, 7.2, 7.4, 8.6, 8.8, 9, 9.2, 9.4, 9.6, 9.8, 10, 10.2, 10.4, 10.6, 10.8, 11, 11.2, 11.4]],
  [0.0035, [5.7, 5.9, 6.1, 6.3, 6.5, 6.7, 6.9, 7.1, 7.3, 7.5, 8.5, 8.7, 8.9, 9.1, 9.3, 9.5, 9.7, 9.9, 10.1, 10.3, 10.5, 10.7, 10.9, 11.1, 11.3]],
  [-0.0012, [5.4, 5.6, 5.8, 6, 6.2, 6.4, 6.6, 6.8, 7, 7.2, 7.4, 7.6, 7.8, 8.4, 8.6, 8.8, 9, 9.2, 9.4, 9.6, 9.8, 10, 10.2, 10.4, 10.6, 10.8, 11, 11.2, 11.4]],
  [-0.0058, [5.3, 5.5, 5.7, 5.9, 6.1, 6.3, 6.5, 6.7, 6.9, 7.1, 7.3, 7.5, 7.7, 7.9, 8.1, 8.3, 8.5, 8.7, 8.9, 9.1, 9.3, 9.5, 9.7, 9.9, 10.1, 10.3, 10.5, 10.7, 10.9, 11.1, 11.3, 11.5, 11.7, 11.9]],
  [-0.0105, [5.1, 5.3, 5.5, 5.7, 5.9, 6.1, 6.3, 6.5, 6.7, 6.9, 7.1, 7.3, 7.5, 7.7, 7.9, 8.1, 8.3, 8.5, 8.7, 8.9, 9.1, 9.3, 9.5, 9.7, 9.9, 10.1, 10.3, 10.5, 10.7, 10.9, 11.1, 11.3, 11.5, 11.7, 11.9, 12.1]],
  [-0.0151, [5, 5.2, 5.4, 5.6, 5.8, 6, 6.2, 6.4, 6.6, 6.8, 7, 7.2, 7.4, 7.6, 7.8, 8, 8.2, 8.4, 8.6, 8.8, 9, 9.2, 9.4, 9.6, 9.8, 10, 10.2, 10.4, 10.6, 10.8, 11, 11.2, 11.4, 11.6, 11.8]],
  [-0.0198, [5.1, 5.3, 5.5, 5.7, 5.9, 6.1, 6.3, 6.5, 6.7, 6.9, 7.1, 7.3, 7.5, 7.7, 7.9, 8.1, 8.3, 8.5, 8.7, 8.9, 9.1, 9.3, 9.5, 9.7, 9.9, 10.1, 10.3, 10.5, 10.7, 10.9, 11.1, 11.3, 11.5]],
  [-0.0244, [5, 5.2, 5.4, 5.6, 5.8, 6, 6.2, 6.4, 6.6, 6.8, 7, 7.2, 7.4, 7.6, 7.8, 8, 8.2, 8.4, 8.6, 8.8, 9, 9.2, 9.4, 9.6, 9.8, 10, 10.2, 10.4, 10.6, 10.8, 11, 11.2, 11.4]],
  [-0.0291, [5.1, 5.3, 5.5, 5.7, 5.9, 6.1, 6.3, 6.5, 6.7, 6.9, 7.1, 7.3, 7.5, 7.7, 7.9, 8.1, 8.3, 8.5, 8.7, 8.9, 9.1, 9.3, 9.5, 9.7, 9.9, 10.1, 10.3, 10.5, 10.7, 10.9, 11.1]],
  [-0.0337, [5, 5.2, 5.4, 5.6, 5.8, 6, 6.2, 6.4, 6.6, 6.8, 7, 7.2, 7.4, 7.6, 7.8, 8, 8.2, 8.4, 8.6, 8.8, 9, 9.2, 9.4, 9.6, 9.8, 10, 10.2, 10.9, 11.1]],
  [-0.0384, [5.1, 5.3, 5.5, 5.7, 5.9, 6.1, 6.3, 6.5, 6.7, 6.9, 7.1, 7.3, 7.5, 7.7, 7.9, 8.1, 8.3, 8.5, 8.7, 8.9, 9.1, 9.3, 9.5, 9.7, 9.9, 10.1, 10.95]],
  [-0.043, [5, 5.2, 5.4, 5.6, 5.8, 6, 6.2, 6.4, 6.6, 6.8, 7, 7.2, 7.4, 7.6, 7.8, 8, 8.2, 8.4, 8.6, 8.8, 9, 9.2, 9.4, 9.6, 9.8, 10.9, 11.1]],
  [-0.0477, [5.1, 5.3, 5.5, 5.7, 5.9, 6.1, 6.3, 6.5, 6.7, 6.9, 7.1, 7.3, 7.5, 7.7, 7.9, 8.1, 8.3, 8.5, 8.7, 8.9, 9.1, 9.3, 9.5, 9.7, 9.9, 10.2, 10.4, 10.6, 10.8, 11]],
  [-0.0523, [5.2, 5.4, 5.6, 5.8, 6, 6.2, 6.4, 6.6, 6.8, 7, 7.2, 7.4, 7.6, 7.8, 8, 8.2, 8.4, 8.6, 8.8, 9, 9.2, 9.4, 9.6, 9.8, 10.3, 10.5, 10.7, 10.9]],
  [-0.057, [5.3, 5.5, 5.7, 5.9, 6.1, 6.3, 6.5, 6.7, 6.9, 7.1, 7.3, 7.5, 7.7, 7.9, 8.1, 8.3, 8.5, 8.7, 8.9, 9.1, 10.4, 10.6, 10.8]],
  [-0.0616, [5.5, 5.7, 5.9, 6.1, 6.3, 6.5, 6.7, 6.9, 7.1, 7.3, 7.5, 7.7, 7.9, 8.1, 8.3, 8.5, 8.7]],
  [-0.0663, [5.9, 6.1, 6.3, 6.5, 6.7, 6.9, 7.1, 7.3, 7.5, 7.7, 7.9, 8.1, 8.3, 8.5]],
  [-0.0709, [6.6, 6.8, 7, 7.2, 7.4, 7.6, 7.8, 8, 8.2]],
];

// Second reading of the same cloud, between the rows above
const coreRowsBetween: [number, number[]][] = [
  [0.0384, [9.45, 9.65, 10.65, 10.85, 11.05]],
  [0.0337, [9.25, 9.45, 9.65, 10.55, 10.75, 10.95, 11.15]],
  [0.029, [9.05, 9.25, 9.45, 9.65, 9.85, 10.45, 10.65, 10.85, 11.05, 11.25]],
  [0.0244, [8.95, 9.15, 9.35, 9.55, 9.75, 9.95, 10.15, 10.35, 10.55, 10.75, 10.95, 11.15, 11.35]],
  [0.0198, [8.95, 9.15, 9.35, 9.55, 9.75, 9.95, 10.15, 10.35, 10.55, 10.75, 10.95, 11.15, 11.35, 11.5]],
  [0.0151, [8.85, 9.05, 9.25, 9.45, 9.65, 9.85, 10.05, 10.25, 10.45, 10.65, 10.85, 11.05, 11.25, 11.45]],
  [0.0105, [6.15, 6.35, 6.55, 6.75, 6.95, 7.15, 8.75, 8.95, 9.15, 9.35, 9.55, 9.75, 9.95, 10.15, 10.35, 10.55, 10.75, 10.95, 11.15, 11.35, 11.55]],
  [0.0058, [5.85, 6.05, 6.25, 6.45, 6.65, 6.85, 7.05, 7.25, 7.45, 8.55, 8.75, 8.95, 9.15, 9.35, 9.55, 9.75, 9.95, 10.15, 10.35, 10.55, 10.75, 10.95, 11.15, 11.35]],
  [0.0012, [5.55, 5.75, 5.95, 6.15, 6.35, 6.55, 6.75, 6.95, 7.15, 7.35, 7.55, 7.75, 8.45, 8.65, 8.85, 9.05, 9.25, 9.45, 9.65, 9.85, 10.05, 10.25, 10.45, 10.65, 10.85, 11.05, 11.25, 11.45]],
  [-0.0035, [5.35, 5.55, 5.75, 5.95, 6.15, 6.35, 6.55, 6.75, 6.95, 7.15, 7.35, 7.55, 7.75, 7.95, 8.15, 8.35, 8.55, 8.75, 8.95, 9.15, 9.35, 9.55, 9.75, 9.95, 10.15, 10.35, 10.55, 10.75, 10.95, 11.15, 11.35, 11.55]],
  [-0.0081, [5.25, 5.45, 5.65, 5.85, 6.05, 6.25, 6.45, 6.65, 6.85, 7.05, 7.25, 7.45, 7.65, 7.85, 8.05, 8.25, 8.45, 8.65, 8.85, 9.05, 9.25, 9.45, 9.65, 9.85, 10.05, 10.25, 10.45, 10.65, 10.85, 11.05, 11.25, 11.45, 11.65, 11.85, 12.05]],
  [-0.0128, [5.05, 5.25, 5.45, 5.65, 5.85, 6.05, 6.25, 6.45, 6.65, 6.85, 7.05, 7.25, 7.45, 7.65, 7.85, 8.05, 8.25, 8.45, 8.65, 8.85, 9.05, 9.25, 9.45, 9.65, 9.85, 10.05, 10.25, 10.45, 10.65, 10.85, 11.05, 11.25, 11.45, 11.65, 11.85]],
  [-0.0175, [5.05, 5.25, 5.45, 5.65, 5.85, 6.05, 6.25, 6.45, 6.65, 6.85, 7.05, 7.25, 7.45, 7.65, 7.85, 8.05, 8.25, 8.45, 8.65, 8.85, 9.05, 9.25, 9.45, 9.65, 9.85, 10.05, 10.25, 10.45, 10.65, 10.85, 11.05, 11.25, 11.45, 11.65]],
  [-0.0221, [5.15, 5.35, 5.55, 5.75, 5.95, 6.15, 6.35, 6.55, 6.75, 6.95, 7.15, 7.35, 7.55, 7.75, 7.95, 8.15, 8.35, 8.55, 8.75, 8.95, 9.15, 9.35, 9.55, 9.75, 9.95, 10.15, 10.35, 10.55, 10.75, 10.95, 11.15, 11.35]],
  [-0.0267, [5.05, 5.25, 5.45, 5.65, 5.85, 6.05, 6.25, 6.45, 6.65, 6.85, 7.05, 7.25, 7.45, 7.65, 7.85, 8.05, 8.25, 8.45, 8.65, 8.85, 9.05, 9.25, 9.45, 9.65, 9.85, 10.05, 10.25, 10.45, 10.65, 10.85, 11.05, 11.25]],
  [-0.0314, [5.15, 5.35, 5.55, 5.75, 5.95, 6.15, 6.35, 6.55, 6.75, 6.95, 7.15, 7.35, 7.55, 7.75, 7.95, 8.15, 8.35, 8.55, 8.75, 8.95, 9.15, 9.35, 9.55, 9.75, 9.95, 10.15, 10.95, 11.1]],
  [-0.036, [5.05, 5.25, 5.45, 5.65, 5.85, 6.05, 6.25, 6.45, 6.65, 6.85, 7.05, 7.25, 7.45, 7.65, 7.85, 8.05, 8.25, 8.45, 8.65, 8.85, 9.05, 9.25, 9.45, 9.65, 9.85, 10.05, 11.0]],
  [-0.0407, [5.15, 5.35, 5.55, 5.75, 5.95, 6.15, 6.35, 6.55, 6.75, 6.95, 7.15, 7.35, 7.55, 7.75, 7.95, 8.15, 8.35, 8.55, 8.75, 8.95, 9.15, 9.35, 9.55, 9.75, 10.95]],
  [-0.0453, [5.05, 5.25, 5.45, 5.65, 5.85, 6.05, 6.25, 6.45, 6.65, 6.85, 7.05, 7.25, 7.45, 7.65, 7.85, 8.05, 8.25, 8.45, 8.65, 8.85, 9.05, 9.25, 9.45, 9.65, 9.85, 10.95]],
  [-0.05, [5.15, 5.35, 5.55, 5.75, 5.95, 6.15, 6.35, 6.55, 6.75, 6.95, 7.15, 7.35, 7.55, 7.75, 7.95, 8.15, 8.35, 8.55, 8.75, 8.95, 9.15, 9.35, 9.55, 9.75, 9.9, 10.25, 10.45, 10.65, 10.85, 11.05]],
  [-0.0547, [5.25, 5.45, 5.65, 5.85, 6.05, 6.25, 6.45, 6.65, 6.85, 7.05, 7.25, 7.45, 7.65, 7.85, 8.05, 8.25, 8.45, 8.65, 8.85, 9.05, 9.25, 10.35, 10.55, 10.75, 10.9]],
  [-0.0593, [5.4, 5.6, 5.8, 6, 6.2, 6.4, 6.6, 6.8, 7, 7.2, 7.4, 7.6, 7.8, 8, 8.2, 8.4, 8.6, 8.8]],
  [-0.0639, [5.7, 5.9, 6.1, 6.3, 6.5, 6.7, 6.9, 7.1, 7.3, 7.5, 7.7, 7.9, 8.1, 8.3, 8.5, 8.7]],
  [-0.0686, [6.2, 6.4, 6.6, 6.8, 7, 7.2, 7.4, 7.6, 7.8, 8, 8.2, 8.4]],
];

const tracks: Pt[][] = [
  topTriangle, upperLeftLoop, outerArc, secondArc, centreArch, thickDiagonal, midHook, leftKnot, leftDrop, bottomLoop,
  innerHook, longRise, shortFall, hollowRow, blackBand, blackWedge, midRibbons, lowerArcs, centreRing, bigRightArc, rightArch,
  innerArches, diamond, lowerRightArc, fingerAndRibs, lowerBlobs,
];

const width = 1166;
const height = 684;
const axisX = 125.5;
const axisY = 590;
const axisFont = "'Liberation Sans', Arial, sans-serif";

const App = () => {
  const svgRef = useRef<SVGSVGElement>(null);

  useEffect(() => {
    const svg = d3.select(svgRef.current);
    svg.selectAll("*").remove();

    const x = d3.scaleLinear().domain([-5, 15]).range([247, 1107]);
    const y = d3.scaleLinear().domain([-0.1, 0.2]).range([546, 30]);

    const rows = coreRows.concat(coreRowsBetween);
    const points: Pt[] = tracks.flat().concat(
      rows.flatMap(([current, winds]) => winds.map((w): Pt => [w, current]))
    );

    svg.append("g")
      .selectAll("circle")
      .data(points)
      .join("circle")
      .attr("cx", d => x(d[0]))
      .attr("cy", d => y(d[1]))
      .attr("r", 7.7)
      .attr("fill", "none")
      .attr("stroke", "#000")
      .attr("stroke-width", 3);

    // Regression line on top of the points
    const line = d3.line<Pt>().x(d => x(d[0])).y(d => y(d[1]));
    svg.append("path")
      .attr("d", line(fitLine))
      .attr("fill", "none")
      .attr("stroke", "#f52a17")
      .attr("stroke-width", 8);

    // Axes
    const xFull = d3.scaleLinear().domain([x.invert(axisX), x.invert(width)]).range([axisX, width]);
    const yFull = d3.scaleLinear().domain([y.invert(axisY), y.invert(11)]).range([axisY, 11]);

    const xAxis = svg.append("g")
      .attr("transform", `translate(0, ${axisY})`)
      .call(d3.axisBottom(xFull).tickValues(xTicks).tickSize(11).tickSizeOuter(0).tickPadding(8).tickFormat(d => String(d)));
    const yAxis = svg.append("g")
      .attr("transform", `translate(${axisX}, 0)`)
      .call(d3.axisLeft(yFull).tickValues(yTicks).tickSize(11).tickSizeOuter(0).tickPadding(11).tickFormat(d => (+d).toFixed(1)));

    [xAxis, yAxis].forEach(axis => {
      axis.select("path").attr("stroke", "#000").attr("stroke-width", 3.5);
      axis.selectAll("line").attr("stroke", "#333").attr("stroke-width", 3.5);
      axis.selectAll("text")
        .attr("fill", "#000")
        .style("font-family", axisFont)
        .style("font-size", "24px");
    });

    // Axis titles
    svg.append("text")
      .attr("x", 647)
      .attr("y", 675)
      .attr("text-anchor", "middle")
      .style("font-family", axisFont)
      .style("font-size", "34px")
      .text("Wind speed (m/s)");
    svg.append("text")
      .attr("transform", "translate(38, 300) rotate(-90)")
      .attr("text-anchor", "middle")
      .style("font-family", axisFont)
      .style("font-size", "34px")
      .text("Current speed (m/s)");
  }, []);

  return (
    <svg
      ref={svgRef}
      width={width}
      height={height}
      style={{ position: "absolute", left: 0, top: 0, display: "block", background: "#fff" }}
    />
  );
};

export default App;
